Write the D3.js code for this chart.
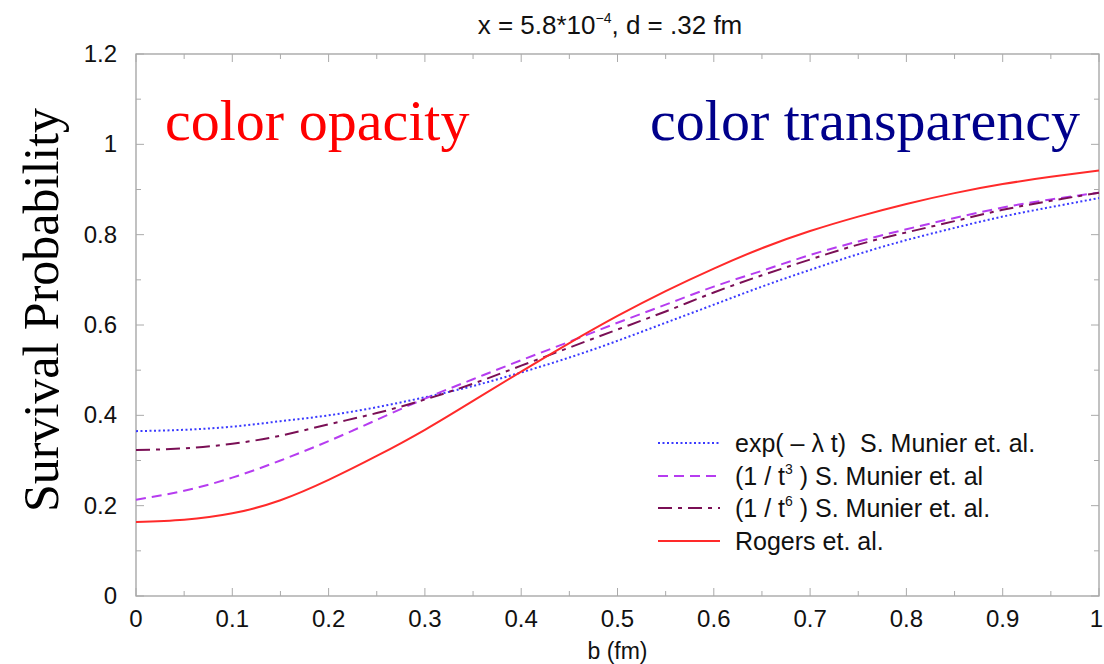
<!DOCTYPE html>
<html><head><meta charset="utf-8">
<script src="https://cdn.jsdelivr.net/npm/d3@7"></script>
<style>body{margin:0;background:#fff}svg{display:block}</style>
</head><body>
<svg id="c" width="1104" height="664"></svg>
<script>
const bValues = [0,0.05,0.1,0.15,0.2,0.25,0.3,0.35,0.4,0.45,0.5,0.55,0.6,0.65,0.7,0.75,0.8,0.85,0.9,0.95,1.0];
const expSeries = [0.365,0.368,0.375,0.387,0.400,0.418,0.440,0.465,0.495,0.528,0.565,0.605,0.645,0.685,0.722,0.757,0.788,0.815,0.840,0.861,0.881];
const t3Series  = [0.213,0.233,0.262,0.300,0.343,0.390,0.437,0.480,0.522,0.563,0.605,0.645,0.685,0.720,0.755,0.785,0.812,0.837,0.860,0.878,0.893];
const t6Series  = [0.323,0.327,0.337,0.355,0.380,0.405,0.435,0.470,0.510,0.550,0.590,0.630,0.672,0.710,0.745,0.778,0.805,0.830,0.855,0.875,0.893];
const rogersSeries = [0.164,0.169,0.183,0.212,0.257,0.310,0.368,0.432,0.497,0.560,0.620,0.675,0.725,0.770,0.808,0.840,0.868,0.892,0.912,0.928,0.942];
const xTicks = [0,0.1,0.2,0.3,0.4,0.5,0.6,0.7,0.8,0.9,1];
const yTicks = [0,0.2,0.4,0.6,0.8,1,1.2];
const xTickLabels = ["0","0.1","0.2","0.3","0.4","0.5","0.6","0.7","0.8","0.9","1"];
const yTickLabels = ["0","0.2","0.4","0.6","0.8","1","1.2"];

const series = [
  {name:"exp", values:expSeries, color:"#3a3aff", dash:"2,2.5", width:2},
  {name:"t3", values:t3Series, color:"#b63cf0", dash:"10,6", width:2},
  {name:"t6", values:t6Series, color:"#7a0f55", dash:"14,6,4,6", width:2},
  {name:"rogers", values:rogersSeries, color:"#ff2a2a", dash:null, width:2}
];

const svg = d3.select("#c");
const L=136, R=1099, T=54, B=596;
const x = d3.scaleLinear().domain([0,1]).range([L,R]);
const y = d3.scaleLinear().domain([0,1.2]).range([B,T]);
const font = "'Liberation Sans', Arial, sans-serif";
const serif = "'Liberation Serif', 'Times New Roman', serif";

// frame
svg.append("rect").attr("x",L).attr("y",T).attr("width",R-L).attr("height",B-T)
  .attr("fill","none").attr("stroke","#999").attr("stroke-width",1.2);

// ticks (inward, all four sides)
const g = svg.append("g").attr("stroke","#aaa").attr("stroke-width",1);
d3.range(0,1.0001,0.05).forEach((v,i)=>{
  const len = (i%2===0)?8:5;
  g.append("line").attr("x1",x(v)).attr("x2",x(v)).attr("y1",B).attr("y2",B-len);
  g.append("line").attr("x1",x(v)).attr("x2",x(v)).attr("y1",T).attr("y2",T+len);
});
d3.range(0,1.2001,0.1).forEach((v,i)=>{
  const len = (i%2===0)?8:5;
  g.append("line").attr("y1",y(v)).attr("y2",y(v)).attr("x1",L).attr("x2",L+len);
  g.append("line").attr("y1",y(v)).attr("y2",y(v)).attr("x1",R).attr("x2",R-len);
});

// tick labels
svg.append("g").selectAll("text").data(xTicks).join("text")
  .attr("x",(d,i)=> i===xTicks.length-1 ? 1103 : x(d))
  .attr("y",627).attr("text-anchor",(d,i)=> i===xTicks.length-1 ? "end" : "middle")
  .attr("font-family",font).attr("font-size",24).attr("fill","#111")
  .text((d,i)=>xTickLabels[i]);
svg.append("g").selectAll("text").data(yTicks).join("text")
  .attr("x",117).attr("y",d=>y(d)+8).attr("text-anchor","end")
  .attr("font-family",font).attr("font-size",24).attr("fill","#111")
  .text((d,i)=>yTickLabels[i]);

// axis titles
svg.append("text").attr("x",(L+R)/2).attr("y",659).attr("text-anchor","middle")
  .attr("font-family",font).attr("font-size",23).attr("fill","#111").text("b (fm)");
svg.append("text").attr("transform","translate(58,310) rotate(-90)").attr("text-anchor","middle")
  .attr("font-family",serif).attr("font-size",50).attr("fill","#000").text("Survival Probability");

// title
const title = svg.append("text").attr("x",610).attr("y",34).attr("text-anchor","middle")
  .attr("font-family",font).attr("font-size",26).attr("fill","#111");
title.append("tspan").text("x = 5.8*10");
title.append("tspan").attr("dy",-11).attr("font-size",14).text("−4");
title.append("tspan").attr("dy",11).text(", d = .32 fm");

// annotations
svg.append("text").attr("x",165).attr("y",140).attr("font-family",serif).attr("font-size",58)
  .attr("fill","#ff0000").text("color opacity");
svg.append("text").attr("x",1080).attr("y",140).attr("text-anchor","end").attr("font-family",serif).attr("font-size",58)
  .attr("fill","#00008b").text("color transparency");

// curves
const line = d3.line().x((d,i)=>x(bValues[i])).y(d=>y(d)).curve(d3.curveNatural);
series.forEach(s=>{
  svg.append("path").attr("d",line(s.values)).attr("fill","none")
    .attr("stroke",s.color).attr("stroke-width",s.width)
    .attr("stroke-dasharray",s.dash);
});

// legend
const legY = [443,476,508,541];
const leg = svg.append("g");
series.forEach((s,i)=>{
  leg.append("line").attr("x1",658).attr("x2",720).attr("y1",legY[i]).attr("y2",legY[i])
    .attr("stroke",s.color).attr("stroke-width",s.width).attr("stroke-dasharray",s.dash);
});
const lt = (i)=>leg.append("text").attr("x",735).attr("y",legY[i]+9)
  .attr("font-family",font).attr("font-size",25).attr("fill","#111");
lt(0).text("exp( – λ t)  S. Munier et. al.").style("white-space","pre");
const l1 = lt(1); l1.append("tspan").text("(1 / t"); l1.append("tspan").attr("dy",-11).attr("font-size",14).text("3");
l1.append("tspan").attr("dy",11).text(" ) S. Munier et. al");
const l2 = lt(2); l2.append("tspan").text("(1 / t"); l2.append("tspan").attr("dy",-11).attr("font-size",14).text("6");
l2.append("tspan").attr("dy",11).text(" ) S. Munier et. al.");
lt(3).text("Rogers et. al.");
</script>
</body></html>
